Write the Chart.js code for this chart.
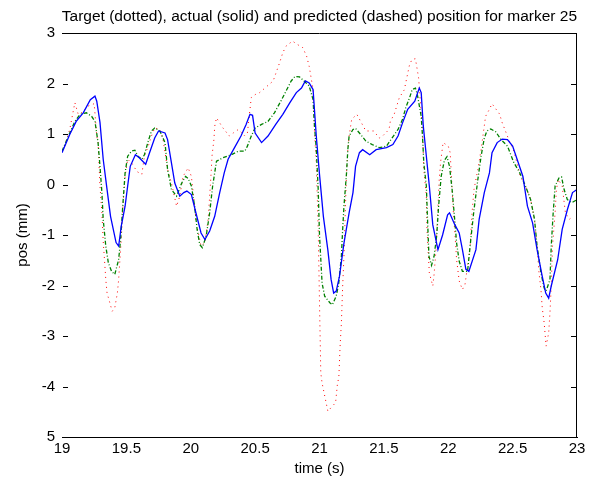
<!DOCTYPE html>
<html>
<head>
<meta charset="utf-8">
<script src="https://cdn.jsdelivr.net/npm/chart.js@4/dist/chart.umd.min.js"></script>
<style>
  html, body { margin: 0; padding: 0; background: #fff; }
  #wrap { width: 598px; height: 480px; position: relative; }
</style>
</head>
<body>
<div id="wrap"><canvas id="myChart"></canvas></div>
<script>
// Tick labels
const xTicks = [19, 19.5, 20, 20.5, 21, 21.5, 22, 22.5, 23];
const yTicks = [3, 2, 1, 0, -1, -2, -3, -4, -5];

// Actual position (solid, blue)
const actualTime = [19.0, 19.06, 19.11, 19.165, 19.22, 19.256, 19.27, 19.295, 19.32, 19.35, 19.377, 19.42, 19.44, 19.46, 19.49, 19.51, 19.53, 19.57, 19.6, 19.65, 19.68, 19.72, 19.75, 19.8, 19.82, 19.85, 19.876, 19.915, 19.946, 19.97, 20.005, 20.04, 20.08, 20.11, 20.147, 20.186, 20.225, 20.26, 20.29, 20.34, 20.39, 20.43, 20.46, 20.48, 20.5, 20.55, 20.6, 20.66, 20.715, 20.77, 20.82, 20.86, 20.89, 20.92, 20.95, 20.975, 21.0, 21.03, 21.065, 21.09, 21.11, 21.13, 21.155, 21.19, 21.23, 21.26, 21.28, 21.31, 21.335, 21.39, 21.44, 21.52, 21.57, 21.61, 21.645, 21.685, 21.74, 21.775, 21.79, 21.806, 21.83, 21.853, 21.88, 21.92, 21.956, 21.995, 22.01, 22.05, 22.085, 22.11, 22.137, 22.16, 22.215, 22.24, 22.28, 22.32, 22.34, 22.38, 22.42, 22.46, 22.5, 22.54, 22.58, 22.615, 22.655, 22.69, 22.73, 22.757, 22.78, 22.8, 22.85, 22.885, 22.925, 22.965, 23.0];
const actualPos = [0.63, 0.99, 1.25, 1.42, 1.68, 1.75, 1.65, 1.23, 0.5, -0.1, -0.63, -1.15, -1.22, -0.83, -0.43, -0.03, 0.36, 0.59, 0.53, 0.4, 0.63, 0.92, 1.06, 1.02, 0.89, 0.43, 0.03, -0.23, -0.16, -0.13, -0.2, -0.56, -0.96, -1.09, -0.92, -0.63, -0.16, 0.23, 0.5, 0.73, 0.96, 1.19, 1.39, 1.37, 1.02, 0.83, 0.96, 1.19, 1.39, 1.62, 1.82, 1.91, 2.05, 2.01, 1.88, 0.96, 0.2, -0.63, -1.3, -1.88, -2.15, -2.11, -1.82, -1.16, -0.56, -0.16, 0.36, 0.63, 0.69, 0.59, 0.69, 0.73, 0.79, 0.96, 1.22, 1.49, 1.65, 1.91, 1.82, 1.16, 0.56, -0.03, -0.8, -1.29, -1.0, -0.6, -0.56, -0.79, -0.96, -1.29, -1.68, -1.72, -1.29, -0.69, -0.16, 0.23, 0.63, 0.83, 0.9, 0.89, 0.76, 0.46, 0.16, -0.43, -0.76, -1.29, -1.82, -2.15, -2.25, -2.01, -1.49, -0.89, -0.5, -0.16, -0.1];

// Predicted position (dashed, green)
const predTime = [19.0, 19.05, 19.1, 19.14, 19.19, 19.23, 19.256, 19.28, 19.295, 19.31, 19.32, 19.34, 19.36, 19.385, 19.41, 19.44, 19.455, 19.47, 19.49, 19.51, 19.54, 19.566, 19.59, 19.62, 19.64, 19.67, 19.695, 19.72, 19.76, 19.8, 19.82, 19.85, 19.89, 19.93, 19.96, 19.98, 20.005, 20.03, 20.05, 20.07, 20.09, 20.12, 20.147, 20.17, 20.2, 20.25, 20.315, 20.37, 20.42, 20.44, 20.47, 20.5, 20.55, 20.6, 20.65, 20.7, 20.74, 20.78, 20.81, 20.845, 20.88, 20.92, 20.95, 20.96, 20.975, 20.99, 21.0, 21.02, 21.04, 21.08, 21.1, 21.13, 21.15, 21.17, 21.18, 21.19, 21.21, 21.22, 21.23, 21.26, 21.28, 21.32, 21.36, 21.41, 21.465, 21.52, 21.555, 21.61, 21.645, 21.67, 21.7, 21.72, 21.745, 21.76, 21.79, 21.8, 21.81, 21.83, 21.84, 21.85, 21.87, 21.89, 21.91, 21.925, 21.945, 21.97, 21.99, 22.01, 22.03, 22.05, 22.065, 22.085, 22.11, 22.15, 22.175, 22.2, 22.23, 22.255, 22.28, 22.3, 22.33, 22.37, 22.41, 22.46, 22.51, 22.55, 22.6, 22.64, 22.67, 22.69, 22.72, 22.745, 22.76, 22.79, 22.8, 22.815, 22.83, 22.86, 22.88, 22.9, 22.925, 22.96, 23.0];
const predPos = [0.66, 0.96, 1.25, 1.39, 1.42, 1.35, 1.25, 0.83, 0.36, -0.16, -0.69, -1.22, -1.55, -1.72, -1.78, -1.49, -1.09, -0.5, 0.23, 0.56, 0.66, 0.68, 0.56, 0.5, 0.59, 0.86, 1.06, 1.12, 1.06, 0.83, 0.3, -0.1, -0.23, 0.03, 0.16, 0.12, -0.03, -0.43, -0.9, -1.19, -1.25, -1.02, -0.56, -0.03, 0.46, 0.53, 0.59, 0.66, 0.66, 0.76, 0.96, 1.12, 1.19, 1.25, 1.42, 1.65, 1.85, 2.05, 2.14, 2.13, 2.05, 1.95, 1.68, 1.2, 0.7, -0.1, -1.0, -1.95, -2.21, -2.34, -2.38, -2.21, -1.95, -1.42, -0.89, -0.43, 0.23, 0.69, 0.96, 1.09, 1.11, 0.99, 0.86, 0.79, 0.73, 0.76, 0.89, 1.09, 1.29, 1.52, 1.72, 1.88, 1.91, 1.78, 1.35, 0.96, 0.43, -0.03, -0.76, -1.42, -1.6, -1.42, -1.02, -0.43, 0.16, 0.48, 0.55, 0.36, -0.1, -0.69, -1.16, -1.52, -1.72, -1.72, -1.09, -0.5, 0.1, 0.56, 0.92, 1.06, 1.1, 1.04, 0.89, 0.76, 0.43, 0.26, -0.03, -0.3, -0.69, -1.22, -1.75, -2.05, -2.11, -1.88, -1.22, -0.56, -0.03, 0.13, 0.15, -0.1, -0.3, -0.36, -0.3];

// Target position (dotted, red)
const targetTime = [19.02, 19.06, 19.075, 19.09, 19.1, 19.126, 19.15, 19.2, 19.25, 19.27, 19.28, 19.295, 19.31, 19.32, 19.33, 19.34, 19.35, 19.39, 19.41, 19.43, 19.44, 19.46, 19.475, 19.49, 19.51, 19.55, 19.58, 19.62, 19.64, 19.67, 19.695, 19.72, 19.76, 19.785, 19.82, 19.85, 19.89, 19.915, 19.94, 19.98, 20.005, 20.03, 20.045, 20.07, 20.08, 20.11, 20.135, 20.147, 20.16, 20.165, 20.18, 20.186, 20.2, 20.25, 20.3, 20.33, 20.37, 20.42, 20.44, 20.47, 20.5, 20.535, 20.64, 20.69, 20.715, 20.74, 20.79, 20.83, 20.87, 20.9, 20.92, 20.95, 20.96, 20.975, 20.99, 21.0, 21.01, 21.02, 21.065, 21.1, 21.125, 21.14, 21.15, 21.16, 21.17, 21.18, 21.19, 21.2, 21.21, 21.22, 21.23, 21.25, 21.29, 21.36, 21.39, 21.42, 21.465, 21.49, 21.54, 21.55, 21.58, 21.62, 21.66, 21.667, 21.7, 21.72, 21.745, 21.77, 21.79, 21.8, 21.81, 21.83, 21.835, 21.853, 21.88, 21.89, 21.905, 21.93, 21.94, 21.96, 22.0, 22.015, 22.03, 22.04, 22.055, 22.065, 22.085, 22.11, 22.13, 22.15, 22.17, 22.185, 22.2, 22.23, 22.255, 22.29, 22.32, 22.34, 22.4, 22.415, 22.47, 22.51, 22.56, 22.6, 22.64, 22.67, 22.69, 22.705, 22.72, 22.73, 22.745, 22.76, 22.78, 22.79, 22.8, 22.81, 22.83, 22.84, 22.855, 22.885, 22.91, 22.94, 22.97];
const targetPos = [0.76, 1.09, 1.29, 1.49, 1.62, 1.39, 1.42, 1.55, 1.6, 0.96, 0.83, -0.03, -0.56, -1.12, -1.49, -1.88, -2.15, -2.51, -2.44, -2.15, -1.88, -1.09, -0.36, 0.16, 0.5, 0.4, 0.26, 0.2, 0.56, 0.76, 0.96, 1.12, 1.09, 0.89, 0.3, 0.03, -0.43, -0.23, 0.16, 0.33, 0.16, -0.43, -0.8, -1.09, -1.22, -1.15, -0.69, -0.23, 0.3, 0.56, 0.89, 1.15, 1.32, 1.12, 0.96, 1.02, 1.09, 0.96, 1.02, 1.72, 1.78, 1.82, 2.05, 2.41, 2.61, 2.74, 2.84, 2.77, 2.71, 2.54, 2.34, 1.88, 1.09, 0.43, -0.89, -2.34, -3.73, -3.93, -4.49, -4.39, -4.32, -3.93, -3.83, -3.2, -2.74, -2.01, -1.42, -0.56, 0.23, 0.69, 0.96, 1.29, 1.39, 1.06, 1.06, 1.06, 0.92, 0.96, 1.09, 1.25, 1.39, 1.72, 1.88, 1.98, 2.38, 2.48, 2.49, 2.11, 1.39, 1.09, 0.3, -0.23, -0.89, -1.75, -2.01, -1.78, -1.29, 0.1, 0.43, 0.83, 0.76, 0.63, -0.1, -0.56, -1.09, -1.49, -1.91, -2.08, -1.98, -1.62, -1.22, -0.56, -0.1, 0.3, 0.69, 1.35, 1.49, 1.6, 1.39, 1.25, 0.89, 0.66, 0.16, -0.03, -0.3, -0.69, -1.22, -1.75, -2.08, -2.44, -2.74, -3.2, -2.94, -2.54, -2.01, -1.22, -0.56, -0.1, 0.1, -0.03, -0.56, -0.69, -0.63];

const FONT = "'Liberation Sans', Arial, sans-serif";

// Turn two arrays into {x, y} points
function toPoints(times, values) {
  return times.map((t, i) => ({ x: t, y: values[i] }));
}

// Draw top and right border plus inward y ticks (MATLAB look)
const framePlugin = {
  id: "frame",
  afterDatasetsDraw(chart) {
    const { ctx, chartArea: a, scales } = chart;
    const y = scales.y;
    ctx.save();
    ctx.strokeStyle = "#000";
    ctx.lineWidth = 1;
    ctx.beginPath();
    ctx.moveTo(a.left, Math.round(a.top) + 0.5);
    ctx.lineTo(a.right, Math.round(a.top) + 0.5);
    ctx.moveTo(Math.round(a.right) - 0.5, a.top);
    ctx.lineTo(Math.round(a.right) - 0.5, a.bottom);
    yTicks.forEach((v) => {
      const py = Math.round(y.getPixelForValue(v)) + 0.5;
      ctx.moveTo(a.left + 1, py);
      ctx.lineTo(a.left + 6, py);
      ctx.moveTo(a.right - 6, py);
      ctx.lineTo(a.right, py);
    });
    ctx.stroke();
    ctx.restore();
  },
};

Chart.defaults.color = "#000";
Chart.defaults.font.family = FONT;
Chart.defaults.font.size = 15;

const ctx = document.getElementById("myChart").getContext("2d");
new Chart(ctx, {
  type: "line",
  data: {
    datasets: [
      {
        label: "actual",
        data: toPoints(actualTime, actualPos),
        borderColor: "#0000ff",
        borderWidth: 1.3,
        order: 1,
      },
      {
        label: "predicted",
        data: toPoints(predTime, predPos),
        borderColor: "#008000",
        borderWidth: 1.3,
        borderDash: [4, 2, 1, 2],
        order: 2,
      },
      {
        label: "target",
        data: toPoints(targetTime, targetPos),
        borderColor: "#ff0000",
        borderWidth: 1,
        borderDash: [1, 4],
        order: 3,
      },
    ],
  },
  options: {
    responsive: true,
    maintainAspectRatio: false,
    animation: false,
    parsing: false,
    layout: { padding: { left: 0, right: 21, top: 0, bottom: 0 } },
    elements: {
      point: { radius: 0 },
      line: { tension: 0, fill: false },
    },
    plugins: {
      legend: { display: false },
      tooltip: { enabled: false },
      title: {
        display: true,
        align: "end",
        text: "Target (dotted), actual (solid) and predicted (dashed) position for marker 25",
        font: { family: FONT, size: 15.5, weight: "normal", lineHeight: 1.2 },
        padding: { top: 7, bottom: 7.4 },
      },
    },
    scales: {
      x: {
        type: "linear",
        min: 19,
        max: 23,
        afterBuildTicks: (scale) => {
          scale.ticks = xTicks.map((v) => ({ value: v }));
        },
        afterFit: (scale) => {
          scale.height = 43;
        },
        ticks: { padding: 3, maxRotation: 0, callback: (v) => String(v) },
        grid: { drawOnChartArea: false, drawTicks: false },
        border: { display: true, color: "#000", width: 1 },
        title: {
          display: true,
          text: "time (s)",
          font: { family: FONT, size: 15 },
          padding: { top: 0, bottom: 2 },
        },
      },
      y: {
        type: "linear",
        min: -5,
        max: 3,
        afterBuildTicks: (scale) => {
          scale.ticks = yTicks.map((v) => ({ value: v }));
        },
        afterFit: (scale) => {
          scale.width = 62;
        },
        ticks: {
          padding: 7,
          // bottom label is shown as "5" in the original figure
          callback: (v) => (v === -5 ? "5" : String(v)),
        },
        grid: { drawOnChartArea: false, drawTicks: false },
        border: { display: false },
        title: {
          display: true,
          text: "pos (mm)",
          font: { family: FONT, size: 15 },
          padding: { top: 14, bottom: 0 },
        },
      },
    },
  },
  plugins: [framePlugin],
});
</script>
</body>
</html>
